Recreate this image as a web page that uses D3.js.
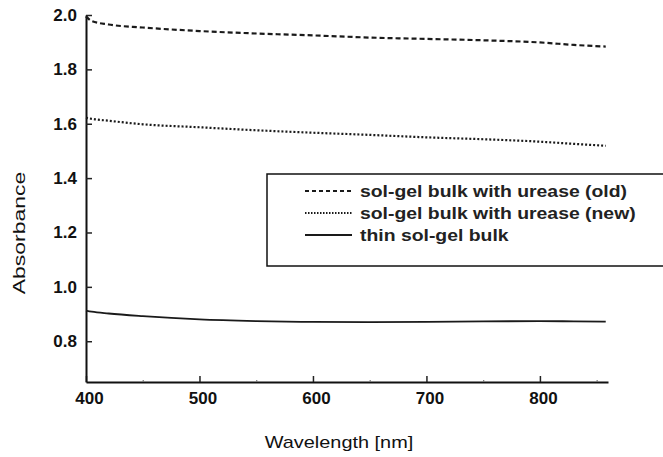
<!DOCTYPE html>
<html>
<head>
<meta charset="utf-8">
<script src="https://cdn.jsdelivr.net/npm/d3@7"></script>
<style>
  body { margin: 0; background: #fff; }
  svg { display: block; font-family: "Liberation Sans", Arial, sans-serif; }
</style>
</head>
<body>
<svg id="chart" width="663" height="457"></svg>
<script>
// data
var wavelength = [400, 405, 420, 450, 500, 550, 600, 650, 700, 750, 800, 830, 858];
var oldUrease  = [1.995, 1.978, 1.965, 1.954, 1.941, 1.932, 1.925, 1.917, 1.912, 1.907, 1.899, 1.890, 1.884];
var newUrease  = [1.622, 1.618, 1.611, 1.598, 1.587, 1.576, 1.567, 1.559, 1.550, 1.543, 1.534, 1.526, 1.519];
var thinBulk   = [0.913, 0.909, 0.902, 0.892, 0.880, 0.874, 0.871, 0.870, 0.871, 0.873, 0.874, 0.873, 0.872];

var seriesNames = ["sol-gel bulk with urease (old)", "sol-gel bulk with urease (new)", "thin sol-gel bulk"];
var seriesDash  = ["5,3", "2,2", null];
var legendDash  = ["4,3", "1.5,1.5", null];
var seriesData  = [oldUrease, newUrease, thinBulk];

var xTicks = [400, 500, 600, 700, 800];
var xMinor = [450, 550, 650, 750, 850];
var yTicks = [0.8, 1.0, 1.2, 1.4, 1.6, 1.8, 2.0];

var svg = d3.select("#chart");

var x = d3.scaleLinear().domain([400, 860]).range([86, 608]);
var y = d3.scaleLinear().domain([0.65, 2.0]).range([382, 15]);

// stretch text horizontally (scan is wider than the installed fonts)
function stretch(sel, k) {
  sel.each(function() {
    var len = this.getComputedTextLength();
    d3.select(this).attr("textLength", len * k).attr("lengthAdjust", "spacingAndGlyphs");
  });
}

// x axis
var gx = svg.append("g")
  .attr("transform", "translate(0,382)")
  .call(d3.axisBottom(x).tickValues(xTicks).tickSize(-6).tickSizeOuter(0).tickPadding(10));
gx.select(".domain").attr("stroke", "#111").attr("stroke-width", 2);
gx.selectAll(".tick line").attr("stroke", "#222").attr("stroke-width", 1.5);
gx.selectAll(".tick text")
  .attr("dx", 3)
  .style("font-size", "17px").style("font-weight", "bold").attr("fill", "#111");

svg.append("g")
  .attr("transform", "translate(0,382)")
  .call(d3.axisBottom(x).tickValues(xMinor).tickSize(-2).tickSizeOuter(0).tickFormat(""))
  .call(function(g) {
    g.select(".domain").remove();
    g.selectAll(".tick line").attr("stroke", "#777").attr("stroke-width", 1.2);
  });

// y axis
var gy = svg.append("g")
  .attr("transform", "translate(86,0)")
  .call(d3.axisLeft(y).tickValues(yTicks).tickSize(-6).tickSizeOuter(0).tickPadding(9)
    .tickFormat(d3.format(".1f")));
gy.select(".domain").attr("stroke", "#111").attr("stroke-width", 2);
gy.selectAll(".tick line").attr("stroke", "#222").attr("stroke-width", 1.5);
gy.selectAll(".tick text")
  .style("font-size", "17px").style("font-weight", "bold").attr("fill", "#111");

// axis titles
svg.append("text")
  .attr("x", 339).attr("y", 448)
  .attr("text-anchor", "middle")
  .style("font-size", "17px").attr("fill", "#111")
  .text("Wavelength [nm]")
  .call(stretch, 1.17);

svg.append("text")
  .attr("transform", "translate(25,233) rotate(-90)")
  .attr("text-anchor", "middle")
  .style("font-size", "17px").attr("fill", "#111")
  .text("Absorbance")
  .call(stretch, 1.35);

// curves
var line = d3.line()
  .x(function(d, i) { return x(wavelength[i]); })
  .y(function(d) { return y(d); })
  .curve(d3.curveMonotoneX);

svg.append("g").selectAll("path")
  .data(seriesData)
  .enter().append("path")
  .attr("d", line)
  .attr("fill", "none")
  .attr("stroke", "#1a1a1a")
  .attr("stroke-width", function(d, i) { return i == 2 ? 1.8 : 2.2; })
  .attr("stroke-dasharray", function(d, i) { return seriesDash[i]; });

// legend
var legend = svg.append("g");
legend.append("rect")
  .attr("x", 267).attr("y", 174)
  .attr("width", 400).attr("height", 92)
  .attr("fill", "#fff").attr("stroke", "#111").attr("stroke-width", 1.5);

var rows = legend.selectAll(".row")
  .data(seriesNames)
  .enter().append("g")
  .attr("class", "row")
  .attr("transform", function(d, i) { return "translate(0," + (191 + i * 22) + ")"; });

rows.append("line")
  .attr("x1", 305).attr("x2", 352)
  .attr("stroke", "#1a1a1a").attr("stroke-width", 1.8)
  .attr("stroke-dasharray", function(d, i) { return legendDash[i]; });

rows.append("text")
  .attr("x", 360).attr("dy", "0.36em")
  .style("font-size", "17px").style("font-weight", "bold").attr("fill", "#222")
  .text(function(d) { return d; })
  .call(stretch, 1.14);
</script>
</body>
</html>
